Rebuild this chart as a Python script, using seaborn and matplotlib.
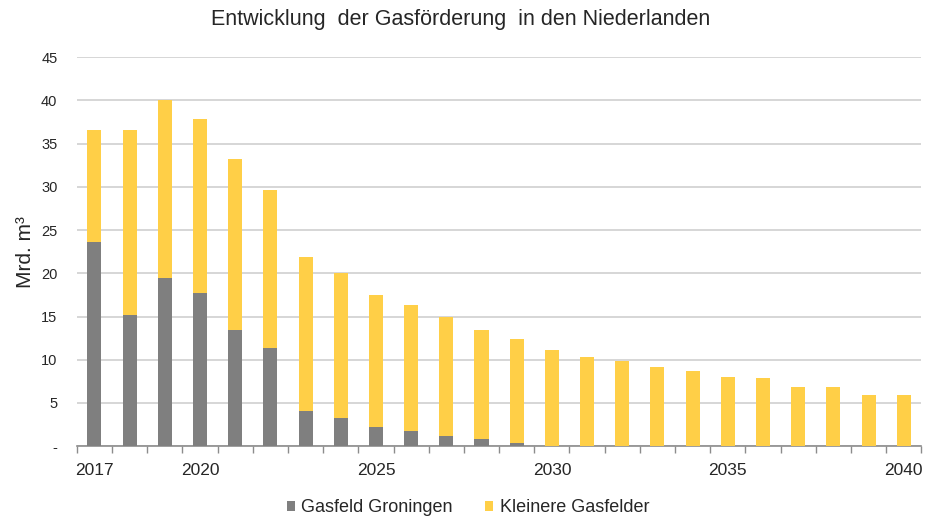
import pandas as pd
import numpy as np
import matplotlib.pyplot as plt
import seaborn as sns
from matplotlib.ticker import FixedLocator

years = list(range(2017, 2041))
groningen = [23.6, 15.2, 19.4, 17.7, 13.4, 11.3, 4.1, 3.3, 2.2, 1.7, 1.2, 0.8,
             0.4, 0, 0, 0, 0, 0, 0, 0, 0, 0, 0, 0]
gesamt = [36.6, 36.6, 40.0, 37.9, 33.2, 29.6, 21.9, 20.0, 17.5, 16.3, 14.9, 13.4,
          12.4, 11.1, 10.3, 9.9, 9.2, 8.7, 8.0, 7.9, 6.9, 6.9, 5.9, 5.9]
kleinere = [round(t - g, 1) for t, g in zip(gesamt, groningen)]

df = pd.DataFrame({"Jahr": [str(y) for y in years],
                   "Gasfeld Groningen": groningen,
                   "Kleinere Gasfelder": kleinere})
df["Summe"] = df["Gasfeld Groningen"] + df["Kleinere Gasfelder"]

sns.set_style("white")
plt.rcParams['font.family'] = ['Liberation Sans', 'DejaVu Sans']

grau = "#7F7F7F"
gelb = "#FFCF47"

fig, ax = plt.subplots(figsize=(9.26, 5.2), dpi=100)
fig.subplots_adjust(left=0.083, right=0.995, top=0.89, bottom=0.142)

# gestapelt: Summe gelb, darueber Groningen grau
sns.barplot(data=df, x="Jahr", y="Summe", color=gelb, width=0.4,
            saturation=1, ax=ax, label="Kleinere Gasfelder", zorder=3,
            linewidth=0)
sns.barplot(data=df, x="Jahr", y="Gasfeld Groningen", color=grau, width=0.4,
            saturation=1, ax=ax, label="Gasfeld Groningen", zorder=3,
            linewidth=0)

ax.set_ylim(0, 45)
ax.set_xlim(-0.5, len(years) - 0.5)
ax.set_yticks(range(0, 50, 5))
ax.set_yticklabels(["-"] + [str(v) for v in range(5, 50, 5)])
ax.yaxis.grid(True, color="#D0D0D0", linewidth=1.2, zorder=0)
ax.set_axisbelow(True)

lab_years = [2017, 2020, 2025, 2030, 2035, 2040]
ax.set_xticks([years.index(y) for y in lab_years])
ax.set_xticklabels([str(y) for y in lab_years])
ax.xaxis.set_minor_locator(FixedLocator(np.arange(-0.5, len(years), 1)))
ax.tick_params(axis="x", which="major", length=0, pad=12, labelsize=12.5)
ax.tick_params(axis="x", which="minor", length=5, width=1, color="#8C8C8C",
               bottom=True)
ax.tick_params(axis="y", length=0, labelsize=10.5, pad=14)

for s in ["top", "right", "left"]:
    ax.spines[s].set_visible(False)
ax.spines["bottom"].set_color("#8C8C8C")
ax.spines["bottom"].set_linewidth(1.2)

ax.set_xlabel("")
ax.set_ylabel("Mrd. m³", fontsize=15, labelpad=4)
fig.text(461 / 926, 1 - 20 / 520,
         "Entwicklung  der Gasförderung  in den Niederlanden",
         fontsize=15.5, ha="center", va="center")

h, l = ax.get_legend_handles_labels()
if ax.get_legend() is not None:
    ax.get_legend().remove()
order = [l.index("Gasfeld Groningen"), l.index("Kleinere Gasfelder")]
fig.legend([h[i] for i in order], [l[i] for i in order], loc="center",
           bbox_to_anchor=(468 / 926, 1 - 508 / 520), ncol=2, frameon=False,
           fontsize=13, handlelength=0.45, handleheight=0.45,
           handletextpad=0.35, columnspacing=1.8)

fig.savefig("out.png", dpi=100)
